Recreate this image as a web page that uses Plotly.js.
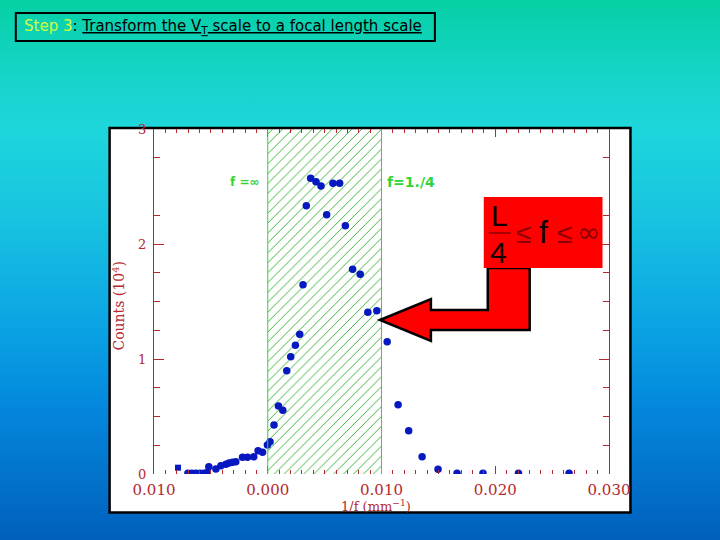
<!DOCTYPE html>
<html><head><meta charset="utf-8">
<script src="https://cdn.plot.ly/plotly-3.0.1.min.js"></script>
<style>html,body{margin:0;padding:0;width:720px;height:540px;overflow:hidden;
background:linear-gradient(180deg,#06d0a4 0%,#14d4c4 12%,#1dd6dc 24%,#18c4e0 40%,#0ba4e4 60%,#0488dc 75%,#0060bc 100%);}
#c{width:720px;height:540px}</style></head><body><div id="c"></div>
<script>
const xTickVals=[-0.01,0,0.01,0.02,0.03];
const xTickText=["0.010","0.000","0.010","0.020","0.030"];
const yTickVals=[0,1,2,3];
const yMinorVals=[0.25,0.5,0.75,1.25,1.5,1.75,2.25,2.75];
const countsX=[-0.00702,-0.00667,-0.00632,-0.00596,-0.00561,-0.00535,-0.00518,-0.00456,-0.00412,-0.00368,-0.00340,-0.00310,-0.00281,-0.00222,-0.00178,-0.00123,-0.00085,-0.00046,-0.00003,0.00020,0.00055,0.00094,0.00132,0.00167,0.00202,0.00243,0.00281,0.00310,0.00339,0.00377,0.00424,0.00468,0.00518,0.00573,0.00632,0.00682,0.00746,0.00813,0.00880,0.00959,0.01050,0.01146,0.01239,0.01357,0.01497,0.01664,0.01892,0.02204,0.02649];
const countsY=[0.006,0.006,0.006,0.006,0.006,0.010,0.063,0.043,0.072,0.084,0.095,0.102,0.107,0.145,0.145,0.150,0.203,0.189,0.252,0.281,0.426,0.591,0.554,0.898,1.020,1.119,1.215,1.646,2.333,2.571,2.542,2.504,2.255,2.528,2.528,2.159,1.780,1.737,1.406,1.420,1.150,0.603,0.377,0.150,0.041,0.006,0.006,0.006,0.006];
const squareX=[-0.00789];
const squareY=[0.055];
const bandX=[0.005];
const bandTop=[3];
const L=153.5,T=129,W=456,H=345;
const px=x=>(x-L)/W, py=y=>(T+H-y)/H;
const RED='#b4282e',GREEN='#33d33c',BLUE='#0618c0';
const paperRect=(x0,y0,x1,y1,fill,lc,lw,layer)=>({type:'rect',xref:'paper',yref:'paper',x0:px(x0),x1:px(x1),y0:py(y1),y1:py(y0),fillcolor:fill,line:{color:lc,width:lw},layer});
const arrowPts=[[380,320],[431,299],[431,310],[488,310],[488,268],[530,268],[530,330],[431,330],[431,341]];
const arrowPath='M'+arrowPts.map(p=>px(p[0])+','+py(p[1])).join('L')+'Z';
const txt=(x,y,text,size,color,family,extra)=>Object.assign({xref:'paper',yref:'paper',x:px(x),y:py(y),text,showarrow:false,font:{size,color,family},xanchor:'center',yanchor:'middle'},extra||{});
const traces=[
 {type:'bar',x:bandX,y:bandTop,width:[0.01],marker:{color:'rgba(255,255,255,0)',line:{width:0},pattern:{shape:'/',size:7,solidity:0.14,fgcolor:'#3cb43c',bgcolor:'rgba(255,255,255,0)'}},hoverinfo:'skip'},
 {type:'scatter',mode:'markers',x:countsX,y:countsY,marker:{size:7.5,color:BLUE,symbol:'circle'}},
 {type:'scatter',mode:'markers',x:squareX,y:squareY,marker:{size:6,color:BLUE,symbol:'square'}}
];
const layout={width:720,height:540,margin:{l:L,r:720-L-W,t:T,b:540-T-H},paper_bgcolor:'rgba(0,0,0,0)',plot_bgcolor:'rgba(0,0,0,0)',showlegend:false,bargap:0,
 xaxis:{range:[-0.01,0.03],tickmode:'array',tickvals:xTickVals,ticktext:xTickText,ticks:'inside',ticklen:8,tickwidth:1,tickcolor:RED,showline:false,mirror:'allticks',showgrid:false,zeroline:false,
  minor:{tickmode:'linear',dtick:0.001,tick0:0,ticks:'inside',ticklen:4,tickwidth:1,tickcolor:RED,showgrid:false},
  tickfont:{family:'DejaVu Serif',size:15,color:RED},ticklabelstandoff:5},
 yaxis:{range:[0,3],tickmode:'array',tickvals:yTickVals,ticktext:['0','1','2','3'],ticks:'inside',ticklen:10,tickwidth:1,tickcolor:RED,showline:true,linecolor:RED,linewidth:1,mirror:'allticks',showgrid:false,zeroline:false,
  minor:{tickmode:'array',tickvals:yMinorVals,ticks:'inside',ticklen:6,tickwidth:1,tickcolor:RED,showgrid:false},
  tickfont:{family:'DejaVu Serif',size:13,color:RED},ticklabelstandoff:4},
 shapes:[
  paperRect(109,128,631,512.5,'#ffffff','#000000',2.5,'below'),
  paperRect(15,13,435,41,'rgba(0,0,0,0)','#000000',2,'above'),
  {type:'line',xref:'x',yref:'paper',x0:0,x1:0,y0:0,y1:1,line:{color:GREEN,width:1}},
  {type:'line',xref:'x',yref:'paper',x0:0.01,x1:0.01,y0:0,y1:1,line:{color:GREEN,width:1}},
  {type:'path',xref:'paper',yref:'paper',path:arrowPath,fillcolor:'#ff0000',line:{color:'#000000',width:2.5}},
  paperRect(484,197,603,268,'#ff0000','#ff0000',0,'above'),
  {type:'line',xref:'paper',yref:'paper',x0:px(489),x1:px(511),y0:py(233),y1:py(233),line:{color:'#8a0000',width:1.5}}
 ],
 annotations:[
  txt(223,26,'<span style="color:#d2ff3c">Step 3</span>: <u>Transform the V<sub>T</sub> scale to a focal length scale</u>',15,'#000000','DejaVu Sans'),
  txt(118,306,'Counts (10<sup>4</sup>)',14,RED,'DejaVu Serif',{textangle:-90}),
  txt(376,506,'1/f (mm<sup>−1</sup>)',13,RED,'DejaVu Serif'),
  txt(244,182,'<b>f =∞</b>',12,GREEN,'DejaVu Sans'),
  txt(411,182,'<b>f=1./4</b>',14,GREEN,'DejaVu Sans'),
  txt(500,215,'L',30,'#100000','Liberation Sans'),
  txt(499,252,'4',30,'#100000','Liberation Sans'),
  txt(524,233,'≤',28,'#8a0000','Liberation Sans'),
  txt(544,232,'f',32,'#100000','Liberation Sans'),
  txt(565,233,'≤',28,'#8a0000','Liberation Sans'),
  txt(589,232,'∞',28,'#8a0000','DejaVu Sans')
 ]
};
Plotly.newPlot('c',traces,layout,{displayModeBar:false,staticPlot:true});
</script></body></html>
